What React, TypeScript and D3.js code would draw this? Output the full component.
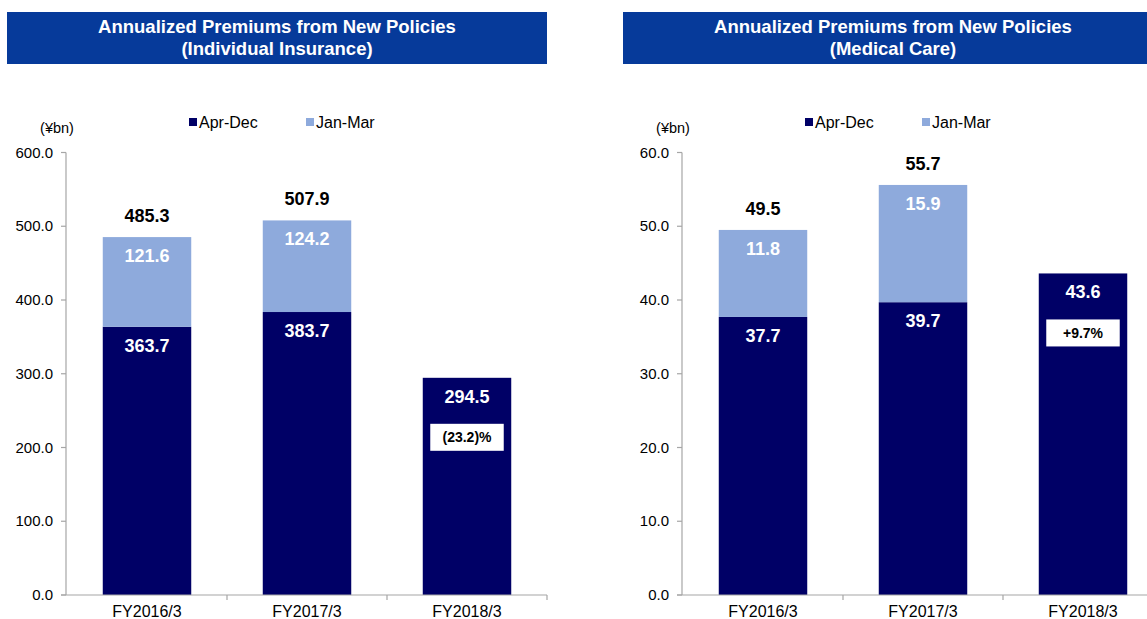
import React from "react";
import * as d3 from "d3";

const categories = ["FY2016/3", "FY2017/3", "FY2018/3"];
const seriesNames = ["Apr-Dec", "Jan-Mar"];

const indAprDec = [363.7, 383.7, 294.5];
const indJanMar = [121.6, 124.2, 0];
const indTotal: (number | null)[] = [485.3, 507.9, null];
const indBadge: (string | null)[] = [null, null, "(23.2)%"];
const indTicks = [0, 100, 200, 300, 400, 500, 600];

const medAprDec = [37.7, 39.7, 43.6];
const medJanMar = [11.8, 15.9, 0];
const medTotal: (number | null)[] = [49.5, 55.7, null];
const medBadge: (string | null)[] = [null, null, "+9.7%"];
const medTicks = [0, 10, 20, 30, 40, 50, 60];

const NAVY = "#000066";
const LIGHT = "#8eaadc";
const TITLE_BG = "#063a9a";
const AXIS = "#a6a6a6";
const FONT = "'Liberation Sans', Arial, sans-serif";

type PanelProps = {
  ox: number;
  title: [string, string];
  aprDec: number[];
  janMar: number[];
  totals: (number | null)[];
  badges: (string | null)[];
  ticks: number[];
  max: number;
};

function Panel({ ox, title, aprDec, janMar, totals, badges, ticks, max }: PanelProps) {
  const axisX = ox + 66;
  const x = d3.scaleBand<string>().domain(categories).range([ox + 67, ox + 547]).paddingInner(0.447).paddingOuter(0.2235);
  const y = d3.scaleLinear().domain([0, max]).range([595, 152.5]);
  const bw = x.bandwidth();
  const fmt = d3.format(".1f");
  const step = x.step();
  const bandStart = ox + 67;
  return (
    <g>
      <rect x={ox + 7} y={12} width={540} height={52} fill={TITLE_BG} />
      <text x={ox + 277} y={33} textAnchor="middle" fill="#fff" fontWeight="bold" fontSize={18.5} fontFamily={FONT}>{title[0]}</text>
      <text x={ox + 277} y={55} textAnchor="middle" fill="#fff" fontWeight="bold" fontSize={18.5} fontFamily={FONT}>{title[1]}</text>

      <text x={axisX - 9} y={133} textAnchor="middle" fontSize={14.5} fontFamily={FONT} fill="#000">(¥bn)</text>

      {/* legend */}
      {seriesNames.map((s, i) => (
        <g key={s}>
          <rect x={axisX + 123 + i * 117} y={118} width={8} height={8} fill={i === 0 ? NAVY : LIGHT} />
          <text x={axisX + 133 + i * 117} y={128} fontSize={16} fontFamily={FONT} fill="#000">{s}</text>
        </g>
      ))}

      {/* bars */}
      {categories.map((c, i) => {
        const bx = x(c)!;
        const yA = y(aprDec[i]);
        const yT = y(aprDec[i] + janMar[i]);
        const cx = bx + bw / 2;
        return (
          <g key={c}>
            <rect x={bx} y={yA} width={bw} height={y(0) - yA} fill={NAVY} />
            {janMar[i] > 0 && <rect x={bx} y={yT} width={bw} height={yA - yT} fill={LIGHT} />}
            <text x={cx} y={yA + 25} textAnchor="middle" fill="#fff" fontWeight="bold" fontSize={18} fontFamily={FONT}>{fmt(aprDec[i])}</text>
            {janMar[i] > 0 && (
              <text x={cx} y={yT + 25} textAnchor="middle" fill="#fff" fontWeight="bold" fontSize={18} fontFamily={FONT}>{fmt(janMar[i])}</text>
            )}
            {totals[i] !== null && (
              <text x={cx} y={yT - 15} textAnchor="middle" fill="#000" fontWeight="bold" fontSize={18} fontFamily={FONT}>{fmt(totals[i] as number)}</text>
            )}
            {badges[i] && (
              <g>
                <rect x={bx + 7.5} y={yT + 46} width={bw - 15} height={27} fill="#fff" />
                <text x={cx} y={yT + 64.5} textAnchor="middle" fill="#000" fontWeight="bold" fontSize={14} fontFamily={FONT}>{badges[i]}</text>
              </g>
            )}
          </g>
        );
      })}

      {/* y axis */}
      <line x1={axisX} x2={axisX} y1={y(max)} y2={y(0)} stroke={AXIS} strokeWidth={1.2} />
      {ticks.map((t) => (
        <g key={t}>
          <line x1={axisX - 5} x2={axisX} y1={y(t)} y2={y(t)} stroke={AXIS} strokeWidth={1.2} />
          <text x={axisX - 13} y={y(t) + 5} textAnchor="end" fontSize={15} fontFamily={FONT} fill="#000">{fmt(t)}</text>
        </g>
      ))}

      {/* x axis */}
      <line x1={axisX - 5} x2={ox + 547} y1={y(0)} y2={y(0)} stroke={AXIS} strokeWidth={1.2} />
      {categories.map((c, i) => (
        <g key={c}>
          <line x1={bandStart + (i + 1) * step} x2={bandStart + (i + 1) * step} y1={y(0)} y2={y(0) + 5} stroke={AXIS} strokeWidth={1.2} />
          <text x={x(c)! + bw / 2} y={617} textAnchor="middle" fontSize={16} fontFamily={FONT} fill="#000">{c}</text>
        </g>
      ))}
    </g>
  );
}

export default function App() {
  return (
    <svg width={1147} height={619} style={{ position: "fixed", left: 0, top: 0, background: "#fff" }}>
      <rect width={1147} height={619} fill="#fff" />
      <Panel ox={0} title={["Annualized Premiums from New Policies", "(Individual Insurance)"]} aprDec={indAprDec} janMar={indJanMar} totals={indTotal} badges={indBadge} ticks={indTicks} max={600} />
      <Panel ox={616} title={["Annualized Premiums from New Policies", "(Medical Care)"]} aprDec={medAprDec} janMar={medJanMar} totals={medTotal} badges={medBadge} ticks={medTicks} max={60} />
    </svg>
  );
}
